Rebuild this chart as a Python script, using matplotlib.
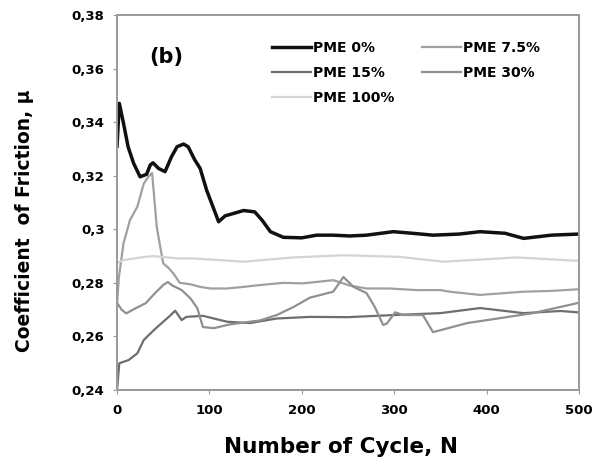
import numpy as np
import matplotlib
matplotlib.use("Agg")
import matplotlib.pyplot as plt

plt.rcParams['font.family'] = ['DejaVu Sans']
plt.rcParams['font.weight'] = 'bold'

# PME 0%
x_0 = [0, 2.5, 7, 12, 18, 25, 32, 36, 39, 45, 52, 59, 65, 72, 77, 84, 90, 97, 110, 117, 125,
       137, 149, 157, 166, 180, 200, 216, 234, 252, 270, 299, 320, 342, 370, 393, 420, 440, 470, 499]
y_0 = [0.331, 0.347, 0.3396, 0.3308, 0.3246, 0.3196, 0.3205, 0.324, 0.3248, 0.3227, 0.3215, 0.3271,
       0.3308, 0.3318, 0.3308, 0.326, 0.3227, 0.3146, 0.3028, 0.305, 0.3058, 0.307, 0.3065, 0.3034,
       0.2991, 0.297, 0.2968, 0.2978, 0.2978, 0.2975, 0.2978, 0.2991, 0.2985, 0.2978, 0.2982, 0.2991,
       0.2985, 0.2966, 0.2978, 0.2982]

# PME 7.5%
x_75 = [0, 2, 7, 14, 22, 29, 34, 38, 43, 47, 50, 56, 61, 68, 79, 90, 101, 119, 137, 155, 180,
        201, 234, 252, 270, 295, 324, 350, 360, 393, 420, 440, 470, 499]
y_75 = [0.272, 0.282, 0.2947, 0.3034, 0.3084, 0.3171, 0.3196, 0.321, 0.3009, 0.293, 0.2873, 0.2855,
        0.2835, 0.280, 0.2795, 0.2785, 0.2779, 0.2779, 0.2785, 0.2792, 0.280, 0.2798, 0.281, 0.279,
        0.2779, 0.2779, 0.2773, 0.2773, 0.2767, 0.2755, 0.2762, 0.2767, 0.2770, 0.2776]

# PME 15%
x_15 = [0, 2.5, 12.6, 22, 29, 40, 50, 56, 63, 70, 75, 93, 119, 144, 173, 209, 250, 300, 350,
        393, 440, 480, 499]
y_15 = [0.240, 0.250, 0.2512, 0.2537, 0.2587, 0.2624, 0.2655, 0.2673, 0.2696, 0.2661, 0.2673, 0.2677,
        0.2655, 0.265, 0.2667, 0.2673, 0.2672, 0.268, 0.2687, 0.2706, 0.2687, 0.2695, 0.269]

# PME 30%
x_30 = [0, 5, 10, 20, 31, 41, 50, 55, 60, 70, 80, 87, 93, 105, 122, 155, 173, 191, 209, 234, 245,
        256, 270, 279, 288, 292, 301, 310, 331, 342, 379, 414, 450, 499]
y_30 = [0.2725, 0.270, 0.2686, 0.2705, 0.2724, 0.2761, 0.2792, 0.2803, 0.279, 0.2773, 0.274, 0.2705,
        0.2635, 0.2631, 0.2645, 0.266, 0.268, 0.271, 0.2745, 0.2767, 0.2822, 0.2785, 0.2762, 0.271,
        0.2643, 0.2648, 0.269, 0.268, 0.268, 0.2616, 0.265, 0.2668, 0.2687, 0.2725]

# PME 100%
x_100 = [0, 7, 30, 39, 67, 83, 137, 191, 245, 306, 353, 433, 494, 499]
y_100 = [0.2874, 0.2885, 0.2897, 0.290, 0.2891, 0.2891, 0.2879, 0.2895, 0.2903, 0.2897, 0.2879,
         0.2895, 0.2883, 0.2883]

yticks = [0.24, 0.26, 0.28, 0.30, 0.32, 0.34, 0.36, 0.38]
ytick_labels = ['0,24', '0,26', '0,28', '0,3', '0,32', '0,34', '0,36', '0,38']
xticks = [0, 100, 200, 300, 400, 500]

fig = plt.figure(figsize=(6.0, 4.66), dpi=100)
ax = fig.add_axes([0.195, 0.163, 0.77, 0.805])

l0, = ax.plot(x_0, y_0, color='#111111', lw=2.5, label='PME 0%')
l75, = ax.plot(x_75, y_75, color='#a0a0a0', lw=1.6, label='PME 7.5%')
l15, = ax.plot(x_15, y_15, color='#6e6e6e', lw=1.6, label='PME 15%')
l30, = ax.plot(x_30, y_30, color='#909090', lw=1.6, label='PME 30%')
l100, = ax.plot(x_100, y_100, color='#d4d4d4', lw=1.6, label='PME 100%')

ax.set_xlim(0, 500)
ax.set_ylim(0.24, 0.38)
ax.set_xticks(xticks)
ax.set_xticklabels([str(v) for v in xticks])
ax.set_yticks(yticks)
ax.set_yticklabels(ytick_labels)
ax.tick_params(labelsize=9.5, length=3, color='#999999')
ax.tick_params(axis='y', pad=6)
ax.tick_params(axis='x', pad=7)
for s in ax.spines.values():
    s.set_color('#999999')
    s.set_linewidth(1.4)

ax.set_xlabel('Number of Cycle, N', fontsize=15.5, fontweight='bold')
ax.xaxis.set_label_coords(0.485, -0.125)
ax.set_ylabel('Coefficient  of Friction, \u03bc', fontsize=13.5, fontweight='bold')
ax.yaxis.set_label_coords(-0.18, 0.45)

ax.text(0.07, 0.873, '(b)', transform=ax.transAxes, fontsize=15, fontweight='bold')

ax.legend(handles=[l0, l15, l100, l75, l30], ncol=2, frameon=False, fontsize=10,
          loc='upper left', bbox_to_anchor=(0.32, 0.95), handlelength=2.8,
          handletextpad=0.15, columnspacing=2.0, labelspacing=0.8, borderpad=0)

fig.savefig('out.png', dpi=100)
